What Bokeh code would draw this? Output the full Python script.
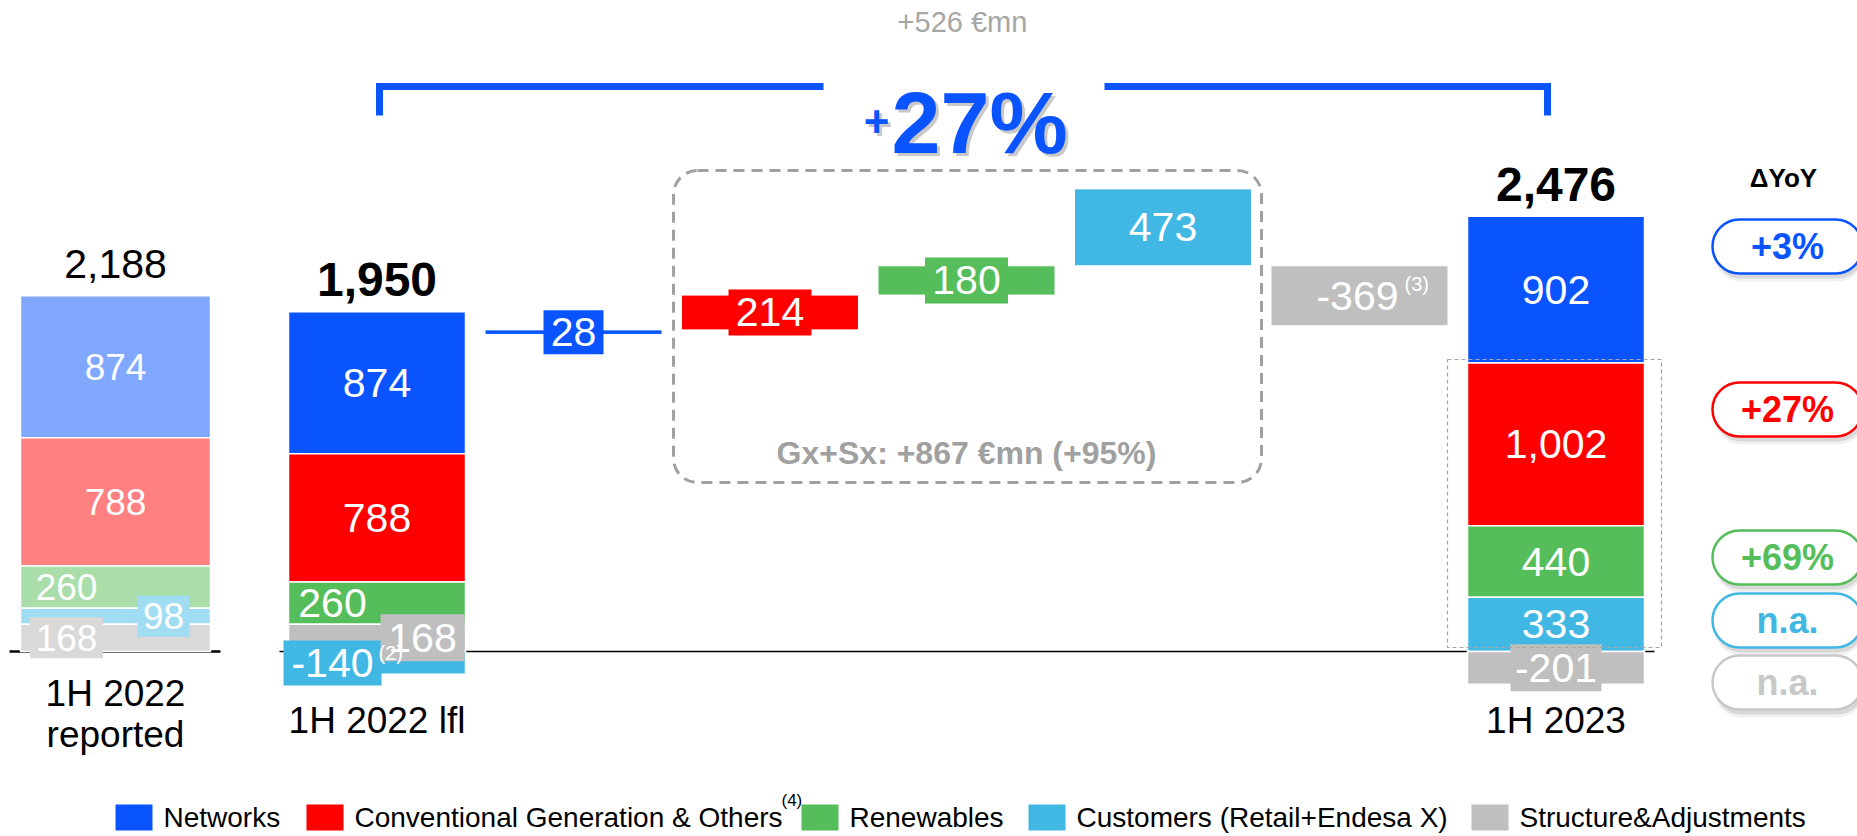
import numpy as np
from bokeh.plotting import figure
from bokeh.models import Range1d, BoxAnnotation, ColumnDataSource
from bokeh.core.properties import value
from bokeh.embed import file_html
from bokeh.resources import INLINE

# ---------------- data ----------------
segments = ["Networks", "Conventional Generation & Others", "Renewables",
            "Customers (Retail+Endesa X)", "Structure&Adjustments"]
bar_labels = ["1H 2022\nreported", "1H 2022 lfl", "1H 2023"]
h1_2022_reported = [874, 788, 260, 98, 168]
h1_2022_lfl = [874, 788, 260, -140, 168]
bridge_deltas = [28, 214, 180, 473, -369]
h1_2023 = [902, 1002, 440, 333, -201]
yoy_labels = ["+3%", "+27%", "+69%", "n.a.", "n.a."]

# ---------------- styles ----------------
MAIN = ["#0A54FF", "#FF0000", "#55BE5A", "#41B8E4", "#BFBFBF"]
LIGHT = ["#80A8FF", "#FF8080", "#A9DEAB", "#A0DCF2", "#D9D9D9"]
PILL_TXT = ["#0A54FF", "#FF0000", "#55BE5A", "#41B8E4", "#C8C8C8"]
FONT = value("Liberation Sans")
GREY_TXT = "#A0A0A0"

# ---------------- layout (screen px) ----------------
PAGE = 0
W, H = 1857, 836
K = 0.1626          # px per EUR mn
BASE_SY = 651       # screen y of the zero line


def vy(sy):
    return (BASE_SY - sy) / K


p = figure(width=W, height=H, x_range=Range1d(PAGE, PAGE + W),
           y_range=Range1d(vy(PAGE + H), vy(PAGE)),
           output_backend="svg", toolbar_location=None,
           x_axis_type=None, y_axis_type=None, min_border=0)
p.outline_line_color = None
p.background_fill_color = "white"


def txt(x, y, s, size, color="black", bold=False, align="center",
        baseline="middle", xo=0, yo=0, alpha=1.0, level="glyph"):
    p.text(x=[x], y=[y], text=[s], text_font=FONT, text_font_size=size,
           text_color=color, text_font_style="bold" if bold else "normal",
           text_align=align, text_baseline=baseline, x_offset=xo, y_offset=yo,
           text_alpha=alpha, level=level)


def stack(values):
    pos, neg = 0, 0
    bottoms = [0] * len(values)
    tops = [0] * len(values)
    for i in reversed(range(len(values))):
        v = values[i]
        if v >= 0:
            bottoms[i], tops[i] = pos, pos + v
            pos += v
        else:
            tops[i], bottoms[i] = neg, neg + v
            neg += v
    return bottoms, tops, pos


SLOT0, STEP = 376.5, 196.5
stack_cfg = [
    dict(values=h1_2022_reported, xc=115, width=190, colors=LIGHT, fs="37px",
         dx=[0, 0, -49, 48, -49],
         boxes={3: (LIGHT[3], 52, 41), 4: (LIGHT[4], 73, 41)}, bold=False, label_y=[693, 734]),
    dict(values=h1_2022_lfl, xc=SLOT0, width=177, colors=MAIN, fs="41px",
         dx=[0, 0, -44.5, -44.5, 45.5],
         boxes={3: (MAIN[3], 98, 45), 4: (MAIN[4], 84, 47)}, bold=True, label_y=[720]),
    dict(values=h1_2023, xc=SLOT0 + 6 * STEP, width=177, colors=MAIN, fs="41px",
         dx=[0, 0, 0, 0, 0],
         boxes={4: (MAIN[4], 91, 47)}, bold=True, label_y=[720]),
]

# baselines
p.line([9, 220], [0, 0], line_color="black", line_width=2.5)
p.line([279, 1654], [0, 0], line_color="black", line_width=1.5)

for bi, cfg in enumerate(stack_cfg):
    vals = cfg["values"]
    bottoms, tops, pos_top = stack(vals)
    src = ColumnDataSource(dict(x=[cfg["xc"]] * len(vals), b=bottoms, t=tops, c=cfg["colors"]))
    p.vbar(x="x", width=cfg["width"], bottom="b", top="t", fill_color="c",
           line_color="white", line_width=1.5, source=src)
    for i, v in enumerate(vals):
        cx = cfg["xc"] + cfg["dx"][i]
        cy = (bottoms[i] + tops[i]) / 2
        if i in cfg["boxes"]:
            col, bw, bh = cfg["boxes"][i]
            p.rect(x=[cx], y=[cy], width=bw, height=bh, width_units="screen",
                   height_units="screen", fill_color=col, line_color=None)
        txt(cx, cy, f"{v:,}", cfg["fs"], color="white")
    total = sum(vals)
    txt(cfg["xc"], pos_top, f"{total:,}", "48px" if cfg["bold"] else "41px",
        bold=cfg["bold"], yo=-32)
    for li, line in enumerate(bar_labels[bi].split("\n")):
        txt(cfg["xc"], vy(cfg["label_y"][li]), line, "37px")

# footnote (2) on lfl customers
b2, t2, _ = stack(h1_2022_lfl)
txt(378, (b2[3] + t2[3]) / 2, "(2)", "20px", color="white", align="left", yo=-10)

# ---------------- bridge ----------------
level = sum(h1_2022_lfl)
d_b, d_t = [], []
prev_bottom = level
for d in bridge_deltas:
    if d >= 0:
        b, t = level, level + d
        prev_bottom = level
        level = t
    else:
        t = prev_bottom
        b = t + d
    d_b.append(b)
    d_t.append(t)
d_x = [SLOT0 + STEP * (i + 1) for i in range(len(bridge_deltas))]
p.vbar(x=d_x, width=177, bottom=d_b, top=d_t, fill_color=MAIN,
       line_color="white", line_width=1)
d_boxes = {0: (60, 44), 1: (83, 46), 2: (83, 46)}
for i, d in enumerate(bridge_deltas):
    cy = (d_b[i] + d_t[i]) / 2
    if i in d_boxes:
        bw, bh = d_boxes[i]
        p.rect(x=[d_x[i]], y=[cy], width=bw, height=bh, width_units="screen",
               height_units="screen", fill_color=MAIN[i], line_color=None)
    if d < 0:
        txt(d_x[i] + 39, cy, f"{d:,}", "41px", color="white", align="right")
        txt(d_x[i] + 45, cy, "(3)", "20px", color="white", align="left", yo=-12)
    else:
        txt(d_x[i], cy, f"{d:,}", "41px", color="white")

# Gx+Sx dashed box
p.add_layout(BoxAnnotation(left=673, right=1261, top=vy(170), bottom=vy(482),
                           fill_alpha=0, line_color=GREY_TXT, line_alpha=1,
                           line_width=3, line_dash="11 7", border_radius=24))
gx = sum(bridge_deltas[1:4])
gx_base = sum(h1_2022_lfl[1:4])
txt(966, vy(452), f"Gx+Sx: +{gx} €mn (+{round(gx / gx_base * 100)}%)", "32px",
    color=GREY_TXT, bold=True)

# thin dashed box round 1H 2023 generation segments
p.add_layout(BoxAnnotation(left=1447, right=1661, top=vy(359), bottom=vy(647),
                           fill_alpha=0, line_color="#A6A6A6", line_alpha=1,
                           line_width=1.2, line_dash="4 3"))

# ---------------- top bracket ----------------
total_delta = sum(bridge_deltas)
base_total = sum(h1_2022_lfl)
pct = round(total_delta / base_total * 100)
txt(962, vy(21), f"+{total_delta} €mn", "29px", color="#A6A6A6")
p.line([379, 379, 823], [vy(115), vy(86), vy(86)], line_color=MAIN[0], line_width=7,
       line_join="miter")
p.line([1104, 1547, 1547], [vy(86), vy(86), vy(115)], line_color=MAIN[0], line_width=7,
       line_join="miter")
for xo, col, al in [(3, "#606060", 0.35), (0, MAIN[0], 1.0)]:
    txt(891, vy(122), f"{pct}%", "88px", color=col, bold=True, align="left",
        baseline="alphabetic", xo=xo, yo=xo, alpha=al)
    txt(889, vy(121), "+", "44px", color=col, bold=True, align="right",
        baseline="alphabetic", xo=xo, yo=xo, alpha=al)

# ---------------- YoY pills ----------------
txt(1783, vy(177), "ΔYoY", "26px", bold=True)
pill_cy = [246, 409, 557, 620, 682]
for i, lab in enumerate(yoy_labels):
    cy = pill_cy[i]
    for dy, al in [(8, 0.10), (5, 0.18)]:
        p.add_layout(BoxAnnotation(left=1714, right=1864, top=vy(cy - 27 + dy),
                                   bottom=vy(cy + 27 + dy), fill_color="#707070",
                                   fill_alpha=al, line_alpha=0, border_radius=27))
    p.add_layout(BoxAnnotation(left=1712, right=1862, top=vy(cy - 27), bottom=vy(cy + 27),
                               fill_color="white", fill_alpha=1, line_color=PILL_TXT[i],
                               line_alpha=1, line_width=2.5, border_radius=27))
    txt(1787, vy(cy), lab, "36px", color=PILL_TXT[i], bold=True, level="overlay")

# ---------------- legend ----------------
leg_left = [115, 306, 801, 1028, 1471]
for i, name in enumerate(segments):
    p.rect(x=[leg_left[i] + 18.5], y=[vy(817)], width=37, height=26,
           width_units="screen", height_units="screen", fill_color=MAIN[i], line_color=None)
    txt(leg_left[i] + 48, vy(817), name, "28px", align="left")
txt(781, vy(800), "(4)", "17px", align="left")

open("out.html", "w").write(file_html(p, INLINE))
